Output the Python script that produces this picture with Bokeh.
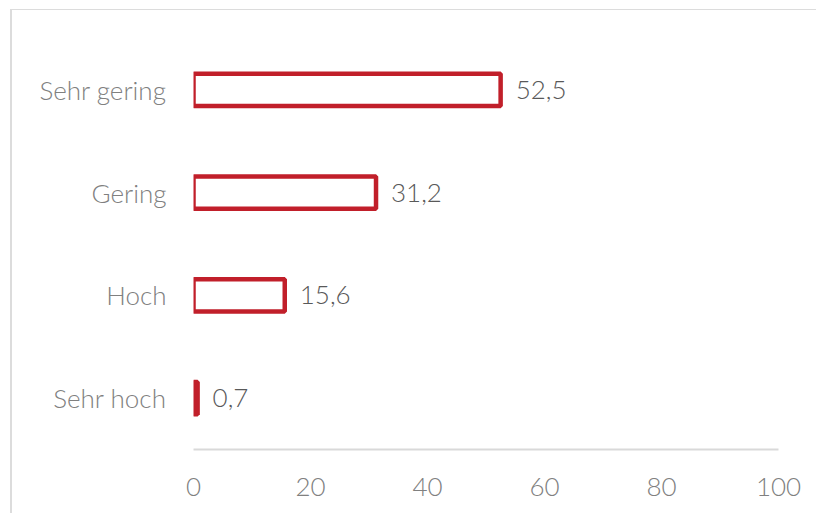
from bokeh.plotting import figure
from bokeh.models import Range1d, FactorRange, FixedTicker, ColumnDataSource
from bokeh.core.properties import value
from bokeh.embed import file_html
from bokeh.resources import INLINE

categories = ["Sehr hoch", "Hoch", "Gering", "Sehr gering"]
values = [0.7, 15.6, 31.2, 52.5]
labels = ["0,7", "15,6", "31,2", "52,5"]
x_ticks = [0, 20, 40, 60, 80, 100]

FONT = "'Lato Light', Lato"
RED = "#C11F2A"

src = ColumnDataSource(dict(cat=categories, val=values, lab=labels))

p = figure(width=806, height=504, output_backend="svg", toolbar_location=None,
           x_range=Range1d(0, 100), y_range=FactorRange(factors=categories, range_padding=0),
           min_border_left=181, min_border_right=40, min_border_top=28, min_border_bottom=65)
p.styles = {"border-left": "2px solid #dcdcdc", "border-top": "1.5px solid #dcdcdc",
            "margin-left": "10px", "margin-top": "9px"}
p.outline_line_color = None
p.xgrid.visible = False
p.ygrid.visible = False

p.hbar(y="cat", right="val", left=0, height=0.315, source=src,
       fill_color="white", line_color=RED, line_width=4.5)
p.text(x="val", y="cat", text="lab", source=src, x_offset=15,
       text_align="left", text_baseline="middle", text_color="#595959",
       text_font=value(FONT), text_font_size="26px")

xa = p.xaxis[0]
xa.ticker = FixedTicker(ticks=x_ticks)
xa.axis_line_color = "#d9d9d9"
xa.axis_line_width = 2
xa.major_tick_line_color = None
xa.minor_tick_line_color = None
xa.major_label_standoff = 22
xa.major_label_text_font = FONT
xa.major_label_text_font_size = "26px"
xa.major_label_text_color = "#808080"

ya = p.yaxis[0]
ya.axis_line_color = None
ya.major_tick_line_color = None
ya.minor_tick_line_color = None
ya.major_label_standoff = 21
ya.major_label_text_font = FONT
ya.major_label_text_font_size = "26px"
ya.major_label_text_color = "#808080"

open("out.html", "w").write(file_html(p, INLINE))
